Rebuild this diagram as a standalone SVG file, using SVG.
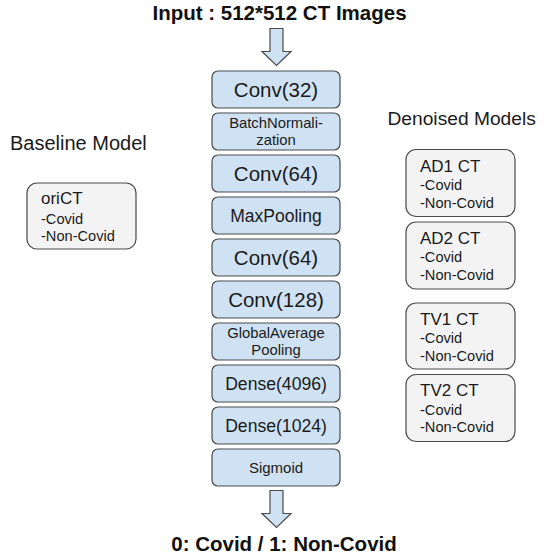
<svg xmlns="http://www.w3.org/2000/svg" width="546" height="557" viewBox="0 0 546 557">
<style>
text{font-family:"Liberation Sans",Arial,sans-serif;fill:#1a1a1a}
.title{font-weight:bold;font-size:20.5px;text-anchor:middle;fill:#111}
.layer rect{fill:#cfe2f3;stroke:#4a4a4a;stroke-width:1.2}
.layer text{text-anchor:middle}
.ds rect{fill:#f3f3f3;stroke:#4a4a4a;stroke-width:1.2}
.h{font-size:17px}
.s{font-size:14.6px}
.lbl{font-size:20px}
.arrow{fill:#cfe2f3;stroke:#4a4a4a;stroke-width:1.2;stroke-linejoin:miter}
</style>
<rect width="546" height="557" fill="#ffffff"/>
<text class="title" x="279.5" y="19.5">Input : 512*512 CT Images</text>
<text class="title" x="284" y="551">0: Covid / 1: Non-Covid</text>
<g id="connectors">
<path class="arrow" d="M270,28.5 H283 V51.5 H291 L276.5,65.5 L262,51.5 H270 Z"/>
<path class="arrow" d="M270,490.5 H283 V513.5 H291 L276.5,527.5 L262,513.5 H270 Z"/>
</g>
<g id="conv32" class="layer"><rect x="212" y="71" width="128" height="37" rx="6"/><text x="276" y="97" font-size="20.5">Conv(32)</text></g>
<g id="batchnorm" class="layer"><rect x="212" y="113" width="128" height="37" rx="6"/><text x="276" y="128" font-size="14.8">BatchNormali-</text><text x="276" y="145" font-size="14.8">zation</text></g>
<g id="conv64a" class="layer"><rect x="212" y="155" width="128" height="37" rx="6"/><text x="276" y="181" font-size="20.5">Conv(64)</text></g>
<g id="maxpool" class="layer"><rect x="212" y="197" width="128" height="37" rx="6"/><text x="276" y="222" font-size="17.5">MaxPooling</text></g>
<g id="conv64b" class="layer"><rect x="212" y="239" width="128" height="37" rx="6"/><text x="276" y="265" font-size="20.5">Conv(64)</text></g>
<g id="conv128" class="layer"><rect x="212" y="281" width="128" height="37" rx="6"/><text x="276" y="307" font-size="20.5">Conv(128)</text></g>
<g id="gap" class="layer"><rect x="212" y="323" width="128" height="37" rx="6"/><text x="276" y="338" font-size="14.8">GlobalAverage</text><text x="276" y="355" font-size="14.8">Pooling</text></g>
<g id="dense4096" class="layer"><rect x="212" y="365" width="128" height="37" rx="6"/><text x="276" y="390" font-size="17.6">Dense(4096)</text></g>
<g id="dense1024" class="layer"><rect x="212" y="407" width="128" height="37" rx="6"/><text x="276" y="432" font-size="17.6">Dense(1024)</text></g>
<g id="sigmoid" class="layer"><rect x="212" y="449" width="128" height="37" rx="6"/><text x="276" y="473" font-size="15">Sigmoid</text></g>
<g id="baseline-label"><text class="lbl" x="10" y="150" font-size="20.5">Baseline Model</text></g>
<g id="denoised-label"><text x="387.5" y="125" font-size="19.2">Denoised Models</text></g>
<g id="oriCT" class="ds"><rect x="27" y="183" width="109" height="66" rx="10"/><text class="h" x="41" y="204">oriCT</text><text class="s" x="41" y="224">-Covid</text><text class="s" x="41" y="241">-Non-Covid</text></g>
<g id="ad1" class="ds"><rect x="406" y="149.5" width="109" height="67" rx="10"/><text class="h" x="420" y="172">AD1 CT</text><text class="s" x="420" y="190">-Covid</text><text class="s" x="420" y="208">-Non-Covid</text></g>
<g id="ad2" class="ds"><rect x="406" y="222" width="109" height="67" rx="10"/><text class="h" x="420" y="244">AD2 CT</text><text class="s" x="420" y="262">-Covid</text><text class="s" x="420" y="280">-Non-Covid</text></g>
<g id="tv1" class="ds"><rect x="406" y="303" width="109" height="66" rx="10"/><text class="h" x="420" y="324.5">TV1 CT</text><text class="s" x="420" y="343">-Covid</text><text class="s" x="420" y="361">-Non-Covid</text></g>
<g id="tv2" class="ds"><rect x="406" y="374.5" width="109" height="67" rx="10"/><text class="h" x="420" y="396">TV2 CT</text><text class="s" x="420" y="414.5">-Covid</text><text class="s" x="420" y="432">-Non-Covid</text></g>
</svg>
